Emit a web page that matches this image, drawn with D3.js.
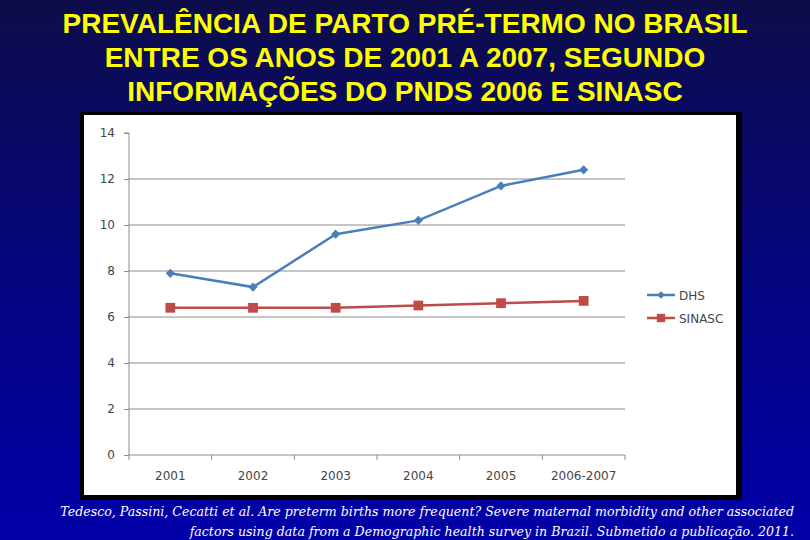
<!DOCTYPE html>
<html>
<head>
<meta charset="utf-8">
<script src="https://cdn.jsdelivr.net/npm/d3@7"></script>
<style>
  html, body { margin: 0; padding: 0; background: #00009a; }
  svg { display: block; }
</style>
</head>
<body>
<div id="chart"></div>
<script>
// Data
const categories = ["2001", "2002", "2003", "2004", "2005", "2006-2007"]
const dhsValues = [7.9, 7.3, 9.6, 10.2, 11.7, 12.4]
const sinascValues = [6.4, 6.4, 6.4, 6.5, 6.6, 6.7]
const yTicks = [0, 2, 4, 6, 8, 10, 12, 14]
const seriesNames = ["DHS", "SINASC"]
const titleLines = [
  "PREVALÊNCIA DE PARTO PRÉ-TERMO NO BRASIL",
  "ENTRE OS ANOS DE 2001 A 2007, SEGUNDO",
  "INFORMAÇÕES DO PNDS 2006 E SINASC"
]
const sourceLines = [
  "Tedesco, Passini, Cecatti et al. Are preterm births more frequent? Severe maternal morbidity and other associated",
  "factors using data from a Demographic health survey in Brazil. Submetido a publicação. 2011."
]

const width = 810
const height = 540

const svg = d3.select("#chart")
  .append("svg")
  .attr("width", width)
  .attr("height", height)

// Slide background, dark navy to bright blue
const defs = svg.append("defs")
const grad = defs.append("linearGradient")
  .attr("id", "bg")
  .attr("x1", 0).attr("y1", 0).attr("x2", 0).attr("y2", 1)
grad.append("stop").attr("offset", "0%").attr("stop-color", "#0d0d4a")
grad.append("stop").attr("offset", "50%").attr("stop-color", "#05057e")
grad.append("stop").attr("offset", "100%").attr("stop-color", "#0000a8")

svg.append("rect")
  .attr("width", width)
  .attr("height", height)
  .attr("fill", "url(#bg)")

// Title
svg.append("g")
  .selectAll("text")
  .data(titleLines)
  .enter()
  .append("text")
  .attr("x", 405)
  .attr("y", (d, i) => 33 + i * 34)
  .attr("text-anchor", "middle")
  .attr("fill", "#ffff00")
  .attr("font-family", "Liberation Sans, Arial, sans-serif")
  .attr("font-weight", "bold")
  .attr("font-size", 28)
  .text(d => d)

// Chart box with dark frame / shadow
svg.append("rect")
  .attr("x", 80).attr("y", 112)
  .attr("width", 662).attr("height", 388)
  .attr("fill", "#000000")
svg.append("rect")
  .attr("x", 84).attr("y", 115)
  .attr("width", 652).attr("height", 380)
  .attr("fill", "#ffffff")

// Scales
const xScale = d3.scaleBand()
  .domain(categories)
  .range([129, 625])

const yScale = d3.scaleLinear()
  .domain([0, 14])
  .range([455, 133])

const fontTick = "DejaVu Sans, sans-serif"

// Gridlines
svg.append("g")
  .selectAll("line")
  .data(yTicks.filter(d => d > 0 && d < 14))
  .enter()
  .append("line")
  .attr("x1", 129)
  .attr("x2", 625)
  .attr("y1", d => yScale(d))
  .attr("y2", d => yScale(d))
  .attr("stroke", "#8c8c8c")
  .attr("stroke-width", 1)

// Y axis
const yAxis = d3.axisLeft(yScale)
  .tickValues(yTicks)
  .tickSize(5)
  .tickPadding(9)
  .tickFormat(d3.format("d"))

const gy = svg.append("g")
  .attr("transform", "translate(129,0)")
  .call(yAxis)
gy.select(".domain").attr("stroke", "#8c8c8c").attr("d", `M-5,${yScale(14)}H0V${yScale(0) + 5}`)
gy.selectAll(".tick line").attr("stroke", "#8c8c8c")
gy.selectAll(".tick text")
  .attr("fill", "#454545")
  .attr("font-family", fontTick)
  .attr("font-size", 12)

// X axis: labels centred, ticks at category boundaries
const xAxis = d3.axisBottom(xScale)
  .tickSize(0)
  .tickPadding(16)

const gx = svg.append("g")
  .attr("transform", `translate(0,${yScale(0)})`)
  .call(xAxis)
gx.select(".domain").attr("stroke", "#8c8c8c").attr("d", "M129,0H625")
gx.selectAll(".tick text")
  .attr("fill", "#454545")
  .attr("font-family", fontTick)
  .attr("font-size", 12)

gx.append("g")
  .selectAll("line")
  .data(categories)
  .enter()
  .append("line")
  .attr("x1", d => xScale(d) + xScale.bandwidth())
  .attr("x2", d => xScale(d) + xScale.bandwidth())
  .attr("y1", 0)
  .attr("y2", 5)
  .attr("stroke", "#8c8c8c")

// Series
const cx = d => xScale(d) + xScale.bandwidth() / 2
const series = [
  { name: seriesNames[0], values: dhsValues, color: "#4a7ebb", marker: "diamond" },
  { name: seriesNames[1], values: sinascValues, color: "#be4b48", marker: "square" }
]

const line = d3.line()
  .x(d => cx(d.cat))
  .y(d => yScale(d.v))

// diamond = square turned 45 degrees
const markerPath = (kind, size) => d3.symbol().type(d3.symbolSquare).size(size)()
const markerRot = kind => kind == "diamond" ? " rotate(45)" : ""

series.forEach(s => {
  const pts = categories.map((c, i) => ({ cat: c, v: s.values[i] }))
  svg.append("path")
    .datum(pts)
    .attr("d", line)
    .attr("fill", "none")
    .attr("stroke", s.color)
    .attr("stroke-width", 2.5)

  svg.append("g")
    .selectAll("path")
    .data(pts)
    .enter()
    .append("path")
    .attr("transform", d => `translate(${cx(d.cat)},${yScale(d.v)})${markerRot(s.marker)}`)
    .attr("d", markerPath(s.marker, s.marker == "diamond" ? 42 : 95))
    .attr("fill", s.color)
})

// Legend
const legend = svg.append("g").attr("id", "legend")
series.forEach((s, i) => {
  const ly = 295 + i * 23
  legend.append("line")
    .attr("x1", 647).attr("x2", 675)
    .attr("y1", ly).attr("y2", ly)
    .attr("stroke", s.color)
    .attr("stroke-width", 2.5)
  legend.append("path")
    .attr("transform", `translate(661,${ly})${markerRot(s.marker)}`)
    .attr("d", markerPath(s.marker, s.marker == "diamond" ? 30 : 70))
    .attr("fill", s.color)
  legend.append("text")
    .attr("x", 679)
    .attr("y", ly + 4.5)
    .attr("fill", "#454545")
    .attr("font-family", fontTick)
    .attr("font-size", 12)
    .text(s.name)
})

// Source note
svg.append("g")
  .selectAll("text")
  .data(sourceLines)
  .enter()
  .append("text")
  .attr("x", 794)
  .attr("y", (d, i) => 516 + i * 20)
  .attr("text-anchor", "end")
  .attr("fill", "#ffffff")
  .attr("font-family", "DejaVu Serif, serif")
  .attr("font-style", "italic")
  .attr("font-size", 12.6)
  .text(d => d)
</script>
</body>
</html>
